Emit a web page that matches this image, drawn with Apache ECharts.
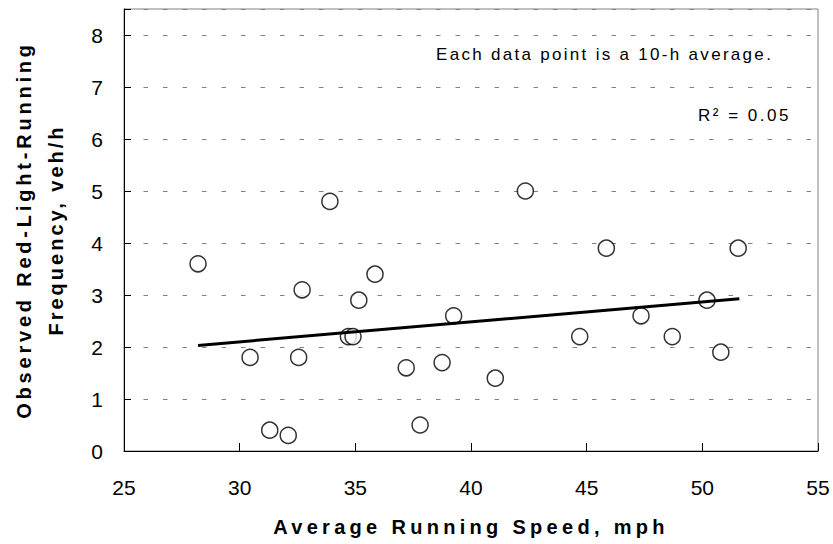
<!DOCTYPE html>
<html>
<head>
<meta charset="utf-8">
<script src="https://cdn.jsdelivr.net/npm/echarts@6/dist/echarts.min.js"></script>
<style>
  html, body { margin: 0; padding: 0; background: #fff; }
  #chart { width: 833px; height: 544px; }
</style>
</head>
<body>
<div id="chart"></div>
<script>
// Average running speed at each observed approach, mph
const speed = [28.2, 30.45, 31.3, 32.1, 32.55, 32.7, 33.9, 34.7, 34.9, 35.15, 35.85, 37.2,
               37.8, 38.75, 39.25, 41.05, 42.35, 44.7, 45.85, 47.35, 48.7, 50.2, 50.8, 51.55];
// Observed red-light-running frequency for the same approaches, veh/h
const frequency = [3.6, 1.8, 0.4, 0.3, 1.8, 3.1, 4.8, 2.2, 2.2, 2.9, 3.4, 1.6,
                   0.5, 1.7, 2.6, 1.4, 5.0, 2.2, 3.9, 2.6, 2.2, 2.9, 1.9, 3.9];
// Least-squares trend line end points
const trendSpeed = [28.2, 51.6];
const trendFrequency = [2.03, 2.93];
// Axis ticks
const xTicks = [25, 30, 35, 40, 45, 50, 55];
const yTicks = [0, 1, 2, 3, 4, 5, 6, 7, 8];
const yTop = 8.5;

const FONT = '"Liberation Sans", Arial, sans-serif';

const chart = echarts.init(document.getElementById('chart'), null, { renderer: 'svg' });

chart.setOption({
  animation: false,
  backgroundColor: '#fff',
  grid: {
    left: 124, right: 15, top: 9, bottom: 93,
    show: true, borderColor: '#808080', borderWidth: 1
  },
  xAxis: {
    type: 'value',
    min: xTicks[0],
    max: xTicks[xTicks.length - 1],
    interval: xTicks[1] - xTicks[0],
    axisLine: { onZero: false, lineStyle: { color: '#000', width: 1 } },
    axisTick: { inside: true, length: 8, lineStyle: { color: '#000', width: 1 } },
    axisLabel: { color: '#000', fontSize: 21, fontFamily: FONT, margin: 26 },
    splitLine: { show: false },
    name: 'Average Running Speed, mph',
    nameLocation: 'middle',
    nameGap: 66,
    nameTextStyle: { color: '#000', fontSize: 20, fontWeight: 'bold', fontFamily: FONT }
  },
  yAxis: {
    type: 'value',
    min: yTicks[0],
    max: yTop,
    interval: yTicks[1] - yTicks[0],
    axisLine: { onZero: false, lineStyle: { color: '#000', width: 1 } },
    axisTick: { inside: true, length: 7, lineStyle: { color: '#000', width: 1 } },
    axisLabel: {
      color: '#000', fontSize: 21, fontFamily: FONT, margin: 21,
      formatter: v => (yTicks.includes(v) ? String(v) : '')
    },
    splitLine: { show: true, lineStyle: { color: '#808080', width: 1, type: [4.5, 15] } },
    name: 'Observed Red-Light-Running\nFrequency, veh/h',
    nameLocation: 'middle',
    nameGap: 52,
    nameTextStyle: { color: '#000', fontSize: 20, fontWeight: 'bold', fontFamily: FONT, lineHeight: 32 }
  },
  graphic: [
    {
      type: 'text', left: 436, top: 46, z: 10,
      style: { text: 'Each data point is a 10-h average.', font: '17px ' + FONT, fill: '#000' }
    },
    {
      type: 'text', left: 698, top: 107, z: 10,
      style: { text: 'R² = 0.05', font: '17px ' + FONT, fill: '#000' }
    }
  ],
  series: [
    {
      type: 'scatter',
      data: speed.map((s, i) => [s, frequency[i]]),
      symbol: 'circle',
      symbolSize: 16,
      itemStyle: { color: '#fff', borderColor: '#000', borderWidth: 1.5 },
      z: 2
    },
    {
      type: 'line',
      data: trendSpeed.map((s, i) => [s, trendFrequency[i]]),
      showSymbol: false,
      lineStyle: { color: '#000', width: 3 },
      z: 3,
      silent: true
    }
  ]
});

// Wider tracking for the titles and notes
const spacing = {
  'Average Running Speed, mph': 4.3,
  'Observed Red-Light-Running': 3.8,
  'Frequency, veh/h': 3.0,
  'Each data point is a 10-h average.': 2.3,
  'R² = 0.05': 2.5
};
function applySpacing() {
  document.querySelectorAll('#chart svg text').forEach(t => {
    const s = spacing[t.textContent.trim()];
    if (s !== undefined) t.setAttribute('letter-spacing', s);
  });
}
applySpacing();
chart.on('finished', applySpacing);
</script>
</body>
</html>
